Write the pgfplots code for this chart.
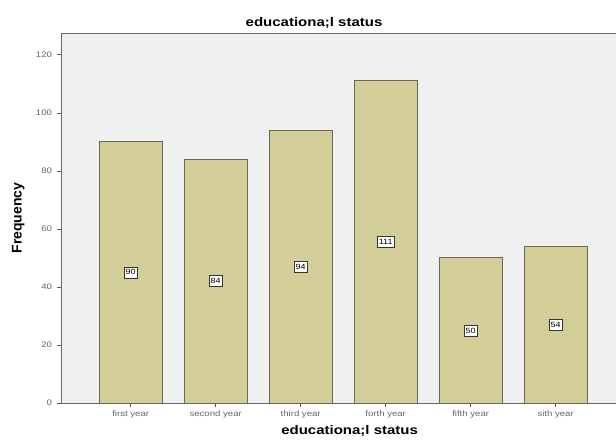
\documentclass[border=0pt]{standalone}
\usepackage{fontspec}
\setmainfont{Liberation Sans}[FakeStretch=1.2]
\newfontfamily\ylabfont{Liberation Sans}
\usepackage{pgfplots}
\pgfplotsset{compat=1.18}
\definecolor{barfill}{RGB}{211,206,152}
\definecolor{baredge}{RGB}{105,105,85}
\definecolor{bg}{RGB}{240,240,240}
\begin{document}
\begin{tikzpicture}[x=1pt,y=1pt]
\useasboundingbox (-61,-37) rectangle (555,403);
\begin{axis}[
  at={(0,0)}, anchor=south west,
  scale only axis, width=555pt, height=370pt,
  xmin=-0.82, xmax=5.71, ymin=0, ymax=127.5,
  axis lines=left, axis line style={-, draw=gray!80!black, line width=0.8pt},
  axis background/.style={fill=bg},
  xtick={0,1,2,3,4,5},
  xticklabels={first year, second year, third year, forth year, fifth year, sith year},
  ytick={0,20,40,60,80,100,120},
  tick style={draw=gray!70!black, line width=0.6pt},
  tick align=outside, major tick length=3.5pt,
  ticklabel style={font=\fontsize{8}{9}\selectfont, text=black!60},
  xticklabel style={yshift=-1pt},
  yticklabel style={xshift=-2pt},
  /pgf/number format/assume math mode=true,
  ylabel={\ylabfont\bfseries Frequency},
  ylabel style={font=\fontsize{14}{16}\selectfont, at={(axis description cs:-0.077,0.5)}, anchor=center},
  xlabel={\bfseries educationa;l status},
  xlabel style={font=\fontsize{12.5}{14}\selectfont, at={(axis description cs:0.52,-0.076)}, anchor=center},
  title={\bfseries educationa;l status},
  title style={font=\fontsize{12.5}{14}\selectfont, at={(axis description cs:0.456,1.012)}, anchor=center},
  clip=false,
]
\addplot[ybar, bar width=0.74, fill=barfill, draw=baredge, line width=0.9pt] coordinates {
  (0,90) (1,84) (2,94) (3,111) (4,50) (5,54)
};
\addplot[draw=none, mark=none, nodes near coords, point meta=explicit symbolic,
  every node near coord/.style={anchor=center, draw=black!80, fill=white, line width=0.6pt,
    font=\fontsize{7.5}{8}\selectfont, inner sep=1.8pt, minimum height=11pt}] coordinates {
  (0,45) [90] (1,42) [84] (2,47) [94] (3,55.5) [111] (4,25) [50] (5,27) [54]
};
\draw[draw=gray!80!black, line width=0.8pt] (rel axis cs:0,1) -- (rel axis cs:1,1);
\end{axis}
\end{tikzpicture}
\end{document}
